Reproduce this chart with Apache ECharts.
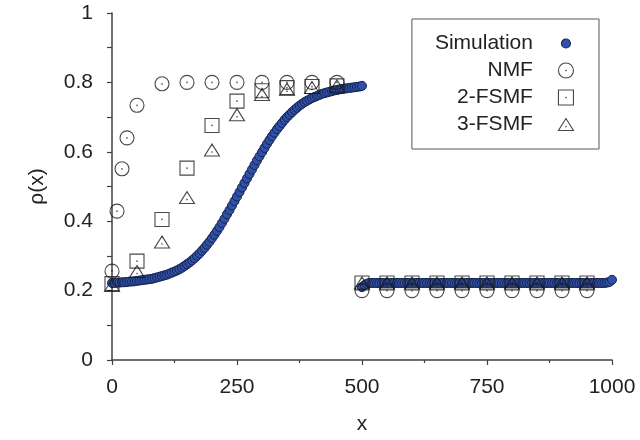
<!DOCTYPE html>
<html>
<head>
<meta charset="utf-8">
<script src="https://cdn.jsdelivr.net/npm/echarts@6/dist/echarts.min.js"></script>
<style>
  html, body { margin: 0; padding: 0; background: #ffffff; }
  #chart { width: 640px; height: 440px; }
</style>
</head>
<body>
<div id="chart"></div>
<script>
// Density profile rho(x): simulation against three mean-field approximations.

// Simulation, left half of the lattice (x = 0 ... 500)
const simLeftX = [
  0, 5, 10, 15, 20, 25, 30, 35, 40, 45, 50, 55, 60, 65, 70, 75, 80, 85, 90, 95,
  100, 105, 110, 115, 120, 125, 130, 135, 140, 145, 150, 155, 160, 165, 170, 175, 180, 185, 190, 195,
  200, 205, 210, 215, 220, 225, 230, 235, 240, 245, 250, 255, 260, 265, 270, 275, 280, 285, 290, 295,
  300, 305, 310, 315, 320, 325, 330, 335, 340, 345, 350, 355, 360, 365, 370, 375, 380, 385, 390, 395,
  400, 405, 410, 415, 420, 425, 430, 435, 440, 445, 450, 455, 460, 465, 470, 475, 480, 485, 490, 495,
  500
];
const simLeftY = [
  0.222, 0.222, 0.223, 0.223, 0.224, 0.224, 0.225, 0.226, 0.226, 0.227,
  0.228, 0.229, 0.230, 0.231, 0.232, 0.233, 0.234, 0.236, 0.238, 0.240,
  0.242, 0.244, 0.246, 0.249, 0.252, 0.255, 0.258, 0.262, 0.266, 0.271,
  0.276, 0.281, 0.287, 0.293, 0.300, 0.307, 0.315, 0.323, 0.332, 0.341,
  0.351, 0.361, 0.372, 0.383, 0.395, 0.407, 0.420, 0.432, 0.445, 0.458,
  0.471, 0.484, 0.497, 0.510, 0.523, 0.536, 0.549, 0.562, 0.575, 0.587,
  0.599, 0.611, 0.623, 0.634, 0.645, 0.655, 0.665, 0.674, 0.683, 0.692,
  0.700, 0.707, 0.714, 0.721, 0.727, 0.733, 0.738, 0.743, 0.747, 0.751,
  0.755, 0.758, 0.761, 0.764, 0.767, 0.769, 0.771, 0.773, 0.775, 0.777,
  0.778, 0.780, 0.781, 0.782, 0.783, 0.784, 0.785, 0.786, 0.787, 0.788,
  0.790
];

// Simulation, right half of the lattice (x = 500 ... 1000)
const simRightX = [
  500, 505, 510, 515, 520, 525, 530, 535, 540, 545, 550, 555, 560, 565, 570, 575, 580, 585, 590, 595,
  600, 605, 610, 615, 620, 625, 630, 635, 640, 645, 650, 655, 660, 665, 670, 675, 680, 685, 690, 695,
  700, 705, 710, 715, 720, 725, 730, 735, 740, 745, 750, 755, 760, 765, 770, 775, 780, 785, 790, 795,
  800, 805, 810, 815, 820, 825, 830, 835, 840, 845, 850, 855, 860, 865, 870, 875, 880, 885, 890, 895,
  900, 905, 910, 915, 920, 925, 930, 935, 940, 945, 950, 955, 960, 965, 970, 975, 980, 985, 990, 995,
  1000
];
const simRightY = [
  0.210, 0.216, 0.220,
  0.222, 0.222, 0.222, 0.222, 0.222, 0.222, 0.222, 0.222, 0.222, 0.222, 0.222, 0.222, 0.222, 0.222, 0.222, 0.222, 0.222, 0.222, 0.222,
  0.222, 0.222, 0.222, 0.222, 0.222, 0.222, 0.222, 0.222, 0.222, 0.222, 0.222, 0.222, 0.222, 0.222, 0.222, 0.222, 0.222, 0.222, 0.222,
  0.222, 0.222, 0.222, 0.222, 0.222, 0.222, 0.222, 0.222, 0.222, 0.222, 0.222, 0.222, 0.222, 0.222, 0.222, 0.222, 0.222, 0.222, 0.222,
  0.222, 0.222, 0.222, 0.222, 0.222, 0.222, 0.222, 0.222, 0.222, 0.222, 0.222, 0.222, 0.222, 0.222, 0.222, 0.222, 0.222, 0.222, 0.222,
  0.222, 0.222, 0.222, 0.222, 0.222, 0.222, 0.222, 0.222, 0.222, 0.222, 0.222, 0.222, 0.222, 0.222, 0.222, 0.222, 0.222, 0.222, 0.222,
  0.223, 0.225, 0.231
];

// Naive mean field (NMF)
const nmfX = [0, 10, 20, 30, 50, 100, 150, 200, 250, 300, 350, 400, 450,
              500, 550, 600, 650, 700, 750, 800, 850, 900, 950];
const nmfY = [0.256, 0.429, 0.551, 0.640, 0.734, 0.796, 0.800, 0.800, 0.800, 0.800, 0.800, 0.800, 0.800,
              0.200, 0.200, 0.200, 0.200, 0.200, 0.200, 0.200, 0.200, 0.200, 0.200];

// Finite-segment mean field, 2 and 3 sites
const fsmfX = [0, 50, 100, 150, 200, 250, 300, 350, 400, 450,
               500, 550, 600, 650, 700, 750, 800, 850, 900, 950];
const fsmf2Y = [0.220, 0.285, 0.405, 0.553, 0.676, 0.746, 0.776, 0.785, 0.788, 0.790,
                0.222, 0.222, 0.222, 0.222, 0.222, 0.222, 0.222, 0.222, 0.222, 0.222];
const fsmf3Y = [0.215, 0.255, 0.340, 0.468, 0.605, 0.707, 0.765, 0.780, 0.785, 0.790,
                0.222, 0.222, 0.222, 0.222, 0.222, 0.222, 0.222, 0.222, 0.222, 0.222];

const seriesNames = ['Simulation', 'NMF', '2-FSMF', '3-FSMF'];
const xTicks = { min: 0, max: 1000, step: 250 };
const yTicks = { min: 0, max: 1, step: 0.2 };

function pairs(xs, ys) { return xs.map((x, i) => [x, ys[i]]); }

const FONT = '"Liberation Sans", Arial, Helvetica, sans-serif';
const INK = '#222222';
const AXIS = '#404040';

// open markers with a small centre dot
const circleDot = 'path://M0,-7A7,7 0 1,1 0,7A7,7 0 1,1 0,-7ZM0,-0.3A0.3,0.3 0 1,1 0,0.3A0.3,0.3 0 1,1 0,-0.3Z';
const squareDot = 'path://M-7,-7L7,-7L7,7L-7,7ZM0,-0.3A0.3,0.3 0 1,1 0,0.3A0.3,0.3 0 1,1 0,-0.3Z';
const triDot = 'path://M0,-6L7,6L-7,6ZM0,1.7A0.3,0.3 0 1,1 0,2.3A0.3,0.3 0 1,1 0,1.7Z';
// legend dot padded so it stays smaller than the open symbols
const legendDot = 'path://M-7.5,-7.5M7.5,7.5M0,-4.5A4.5,4.5 0 1,1 0,4.5A4.5,4.5 0 1,1 0,-4.5Z';
const legendTri = 'path://M-7.5,-7.5M7.5,7.5M0,-6L7.5,6L-7.5,6ZM0,1.7A0.3,0.3 0 1,1 0,2.3A0.3,0.3 0 1,1 0,1.7Z';

const openStyle = { color: 'rgba(0,0,0,0)', borderColor: '#1a1a1a', borderWidth: 1.1 };

const chart = echarts.init(document.getElementById('chart'), null, { renderer: 'canvas' });

chart.setOption({
  animation: false,
  backgroundColor: '#ffffff',
  textStyle: { fontFamily: FONT },
  grid: { left: 112, right: 28, top: 13, bottom: 73, containLabel: false },
  legend: {
    orient: 'vertical',
    align: 'right',
    right: 41,
    top: 19,
    padding: [14, 25, 14, 23],
    itemGap: 6,
    itemWidth: 56,
    itemHeight: 15,
    borderColor: '#555555',
    borderWidth: 1,
    textStyle: { fontSize: 21, color: INK, fontFamily: FONT },
    itemStyle: { borderWidth: 1.1 },
    data: [
      { name: seriesNames[0], icon: legendDot },
      { name: seriesNames[1], icon: circleDot },
      { name: seriesNames[2], icon: squareDot },
      { name: seriesNames[3], icon: legendTri }
    ]
  },
  xAxis: {
    type: 'value',
    min: xTicks.min, max: xTicks.max, interval: xTicks.step,
    name: 'x',
    nameLocation: 'middle',
    nameGap: 54,
    nameTextStyle: { fontSize: 21, color: INK, fontFamily: FONT },
    axisLine: { show: true, lineStyle: { color: AXIS, width: 1.5 } },
    axisTick: { show: true, inside: false, length: 5, lineStyle: { color: AXIS, width: 1.2 } },
    minorTick: { show: true, splitNumber: 2, length: 3, lineStyle: { color: AXIS, width: 1.2 } },
    axisLabel: { fontSize: 21, color: INK, margin: 17, fontFamily: FONT,
                 formatter: v => String(v) },
    splitLine: { show: false }
  },
  yAxis: {
    type: 'value',
    min: yTicks.min, max: yTicks.max, interval: yTicks.step,
    name: 'ρ(x)',
    nameLocation: 'middle',
    nameGap: 64,
    nameTextStyle: { fontSize: 21, color: INK, fontFamily: FONT },
    axisLine: { show: true, lineStyle: { color: AXIS, width: 1.5 } },
    axisTick: { show: true, inside: false, length: 5, lineStyle: { color: AXIS, width: 1.2 } },
    minorTick: { show: true, splitNumber: 2, length: 5, lineStyle: { color: AXIS, width: 1.2 } },
    axisLabel: { fontSize: 21, color: INK, margin: 19, fontFamily: FONT,
                 formatter: v => (v === 0 || v === 1) ? String(v) : v.toFixed(1) },
    splitLine: { show: false }
  },
  series: [
    {
      name: seriesNames[0],
      type: 'scatter',
      symbol: 'circle',
      symbolSize: 9,
      itemStyle: { color: '#2f52a8', borderColor: '#16224d', borderWidth: 1, opacity: 1 },
      data: pairs(simLeftX, simLeftY).concat(pairs(simRightX, simRightY)),
      z: 2
    },
    {
      name: seriesNames[1],
      type: 'scatter',
      symbol: circleDot,
      symbolSize: [14, 14],
      itemStyle: openStyle,
      data: pairs(nmfX, nmfY),
      z: 3
    },
    {
      name: seriesNames[2],
      type: 'scatter',
      symbol: squareDot,
      symbolSize: [14, 14],
      itemStyle: openStyle,
      data: pairs(fsmfX, fsmf2Y),
      z: 3
    },
    {
      name: seriesNames[3],
      type: 'scatter',
      symbol: triDot,
      symbolSize: [15, 12],
      itemStyle: openStyle,
      data: pairs(fsmfX, fsmf3Y),
      z: 3
    }
  ]
});
</script>
</body>
</html>
